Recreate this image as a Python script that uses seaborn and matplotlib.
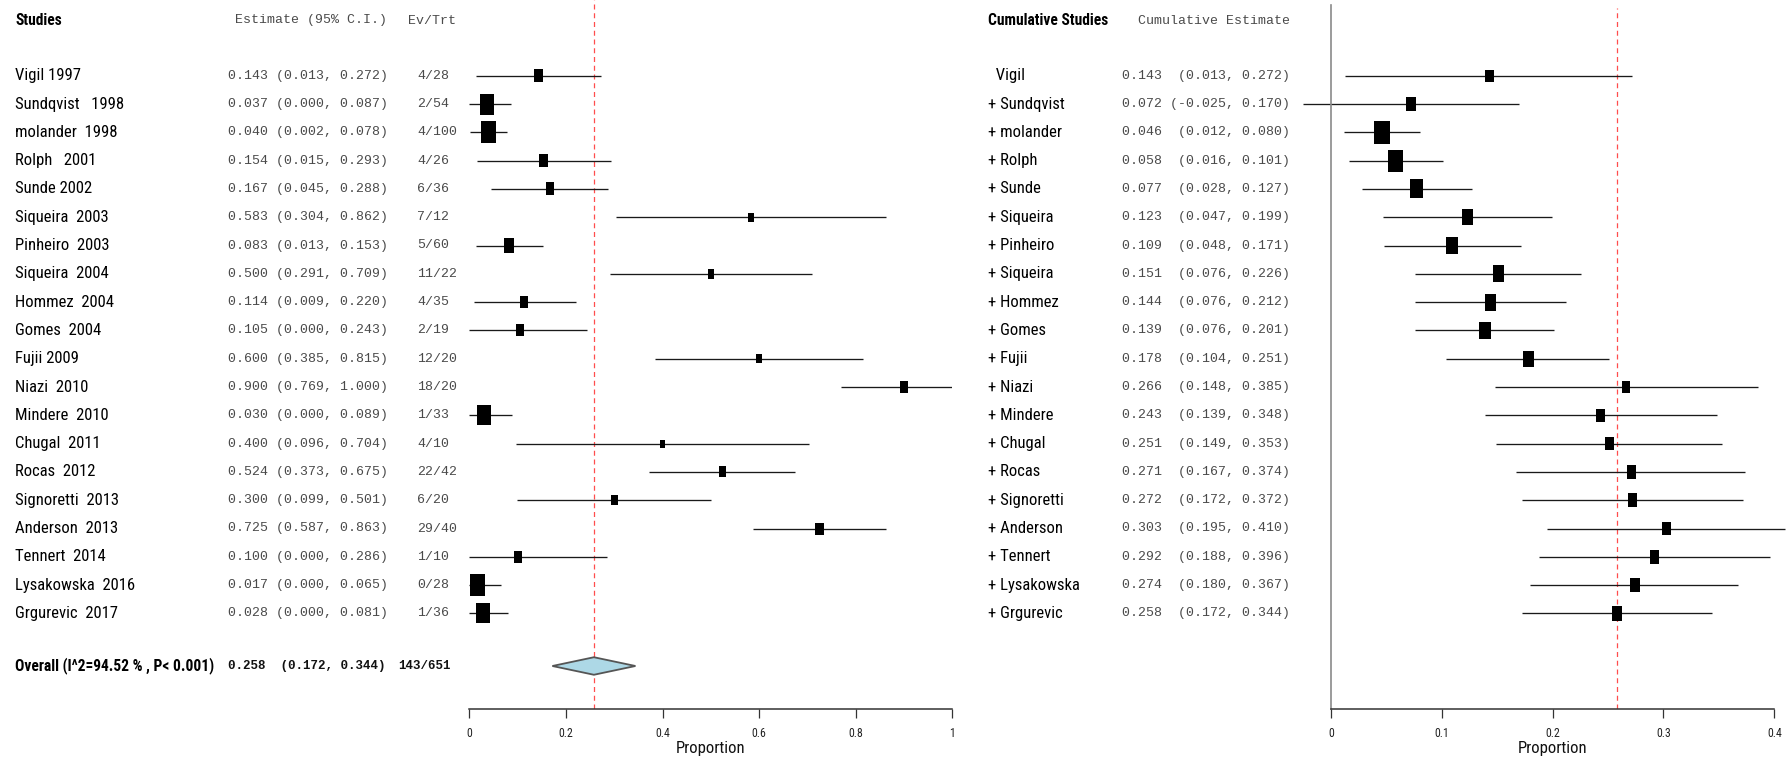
import numpy as np
import pandas as pd
import matplotlib
matplotlib.use("Agg")
import matplotlib.pyplot as plt
import matplotlib.transforms as mtransforms
from matplotlib import font_manager as fm
import seaborn as sns

# ---------------- data ----------------
studies = ["Vigil 1997", "Sundqvist   1998", "molander  1998", "Rolph   2001", "Sunde 2002",
           "Siqueira  2003", "Pinheiro  2003", "Siqueira  2004", "Hommez  2004", "Gomes  2004",
           "Fujii 2009", "Niazi  2010", "Mindere  2010", "Chugal  2011", "Rocas  2012",
           "Signoretti  2013", "Anderson  2013", "Tennert  2014", "Lysakowska  2016", "Grgurevic  2017"]
estimate = [0.143, 0.037, 0.040, 0.154, 0.167, 0.583, 0.083, 0.500, 0.114, 0.105,
            0.600, 0.900, 0.030, 0.400, 0.524, 0.300, 0.725, 0.100, 0.017, 0.028]
ci_low = [0.013, 0.000, 0.002, 0.015, 0.045, 0.304, 0.013, 0.291, 0.009, 0.000,
          0.385, 0.769, 0.000, 0.096, 0.373, 0.099, 0.587, 0.000, 0.000, 0.000]
ci_high = [0.272, 0.087, 0.078, 0.293, 0.288, 0.862, 0.153, 0.709, 0.220, 0.243,
           0.815, 1.000, 0.089, 0.704, 0.675, 0.501, 0.863, 0.286, 0.065, 0.081]
ev_trt = ["4/28", "2/54", "4/100", "4/26", "6/36", "7/12", "5/60", "11/22", "4/35", "2/19",
          "12/20", "18/20", "1/33", "4/10", "22/42", "6/20", "29/40", "1/10", "0/28", "1/36"]
box_size = [13, 21, 22, 12.5, 13, 9, 15, 9.5, 12, 12,
            9, 12, 20, 8, 11, 10, 12, 12, 22, 20]

cum_studies = ["  Vigil", "+ Sundqvist", "+ molander", "+ Rolph", "+ Sunde", "+ Siqueira",
               "+ Pinheiro", "+ Siqueira", "+ Hommez", "+ Gomes", "+ Fujii", "+ Niazi",
               "+ Mindere", "+ Chugal", "+ Rocas", "+ Signoretti", "+ Anderson", "+ Tennert",
               "+ Lysakowska", "+ Grgurevic"]
cum_estimate = [0.143, 0.072, 0.046, 0.058, 0.077, 0.123, 0.109, 0.151, 0.144, 0.139,
                0.178, 0.266, 0.243, 0.251, 0.271, 0.272, 0.303, 0.292, 0.274, 0.258]
cum_low = [0.013, -0.025, 0.012, 0.016, 0.028, 0.047, 0.048, 0.076, 0.076, 0.076,
           0.104, 0.148, 0.139, 0.149, 0.167, 0.172, 0.195, 0.188, 0.180, 0.172]
cum_high = [0.272, 0.170, 0.080, 0.101, 0.127, 0.199, 0.171, 0.226, 0.212, 0.201,
            0.251, 0.385, 0.348, 0.353, 0.374, 0.372, 0.410, 0.396, 0.367, 0.344]
cum_box_size = [12.3, 14.3, 23, 22, 19, 16, 17, 17, 17, 17.3,
                16.3, 12.3, 13.3, 13.7, 13.7, 14, 13.7, 14, 14.7, 15]

overall_label = "Overall (I^2=94.52 % , P< 0.001)"
overall_est, overall_low, overall_high = 0.258, 0.172, 0.344
overall_evtrt = "143/651"

left_ticks = [0, 0.2, 0.4, 0.6, 0.8, 1]
left_ticklabels = ["0", "0.2", "0.4", "0.6", "0.8", "1"]
right_ticks = [0, 0.1, 0.2, 0.3, 0.4]
right_ticklabels = ["0", "0.1", "0.2", "0.3", "0.4"]

# ---------------- fonts ----------------
sns.set_style("white")
MONO = ["Liberation Mono", "DejaVu Sans Mono"]


def pick_narrow():
    for fam in ["Liberation Sans Narrow", "Arial Narrow", "Roboto Condensed",
                "Noto Sans Condensed", "Open Sans Condensed", "Arimo Narrow"]:
        try:
            fm.findfont(fm.FontProperties(family=fam), fallback_to_default=False)
            return fam, "normal"
        except Exception:
            pass
    for fam in ["Noto Sans", "Roboto", "Open Sans"]:
        try:
            f = fm.findfont(fm.FontProperties(family=fam, stretch="condensed"),
                            fallback_to_default=False)
            if "ondensed" in f or "arrow" in f:
                return fam, "condensed"
        except Exception:
            pass
    return None


narrow = pick_narrow()
if narrow:
    SANS = [narrow[0], "Liberation Sans", "DejaVu Sans"]
    STRETCH = narrow[1]
    SZ_NAME, SZ_BOLD, SZ_TICK, SZ_LAB = 12, 11.2, 8.5, 12
else:
    SANS = ["Liberation Sans", "DejaVu Sans"]
    STRETCH = "normal"
    SZ_NAME, SZ_BOLD, SZ_TICK, SZ_LAB = 10.3, 10, 7.5, 10.5
plt.rcParams["font.family"] = SANS

W, H = 1786, 769
fig = plt.figure(figsize=(W / 100, H / 100), dpi=100)
fig.patch.set_facecolor("white")

ROW0, ROWH, AXY = 75.7, 28.3, 709.3


def row_of(px):
    return (px - ROW0) / ROWH


ytop, ybot = row_of(0), row_of(AXY)
overall_row = row_of(666)
header_row = row_of(20.5)


def make_ax(x0, x1):
    ax = fig.add_axes([x0 / W, (H - AXY) / H, (x1 - x0) / W, AXY / H])
    ax.patch.set_alpha(0)
    return ax


axL = make_ax(469.3, 952.3)
axR = make_ax(1331, 1774.3)

BOX = [(-0.34, -0.5), (0.34, -0.5), (0.34, 0.5), (-0.34, 0.5), (-0.34, -0.5)]
PX2PT = 72 / 100
rows = np.arange(len(studies))

dfL = pd.DataFrame({"est": estimate, "row": rows, "lo": ci_low, "hi": ci_high, "w": box_size})
dfR = pd.DataFrame({"est": cum_estimate, "row": rows, "lo": cum_low, "hi": cum_high, "w": cum_box_size})

for ax, df, clip in [(axL, dfL, True), (axR, dfR, False)]:
    ax.hlines(df["row"], df["lo"], df["hi"], colors="#1a1a1a", lw=0.95, zorder=2, clip_on=clip)
    sns.scatterplot(data=df, x="est", y="row", marker=BOX, s=(df["w"] * PX2PT) ** 2,
                    color="black", linewidth=0, ax=ax, legend=False, zorder=3, clip_on=False)

# overall diamond
d = 0.31
axL.fill([overall_low, overall_est, overall_high, overall_est],
         [overall_row, overall_row - d, overall_row, overall_row + d],
         facecolor="#add8e6", edgecolor="#555555", lw=1.3, zorder=3)

# reference lines
axL.vlines(overall_est, ybot, ytop, colors="#ff4d4d", linestyles=(0, (4, 3)), lw=0.9, zorder=1)
axR.vlines(overall_est, ybot, row_of(8), colors="#ff4d4d", linestyles=(0, (4, 3)), lw=0.9, zorder=1)

for ax, ticks, labels in [(axL, left_ticks, left_ticklabels), (axR, right_ticks, right_ticklabels)]:
    ax.set_xlim(ticks[0], ticks[-1])
    ax.set_ylim(ybot, ytop)
    for s in ["top", "right", "left"]:
        ax.spines[s].set_visible(False)
    ax.spines["bottom"].set_bounds(ticks[0], ticks[-1])
    ax.spines["bottom"].set_color("#333333")
    ax.spines["bottom"].set_linewidth(1.1)
    ax.set_xticks(ticks)
    ax.set_xticklabels(labels, fontstretch=STRETCH)
    ax.set_yticks([])
    ax.tick_params(axis="x", bottom=True, direction="out", length=6.5, width=0.9,
                   color="#333333", pad=6, labelsize=SZ_TICK, labelcolor="#222222")
    ax.set_xlabel("Proportion", fontsize=SZ_LAB, labelpad=1, color="#111111", fontstretch=STRETCH)
    ax.set_ylabel("")

axR.spines["left"].set_visible(True)
axR.spines["left"].set_color("#8a8a8a")
axR.spines["left"].set_linewidth(1.2)
axR.spines["left"].set_bounds(ybot, row_of(5))

# ---------------- text ----------------
transL = mtransforms.blended_transform_factory(fig.transFigure, axL.transData)


def tx(px, row, s, mono=False, bold=False, color="black", size=None):
    kw = dict(transform=transL, ha="left", va="center",
              fontweight="bold" if bold else "normal", color=color)
    if mono:
        axL.text(px / W, row, s, family=MONO, fontsize=size if size else 9.5, **kw)
    else:
        axL.text(px / W, row, s, family=SANS, fontstretch=STRETCH,
                 fontsize=size if size else (SZ_BOLD if bold else SZ_NAME), **kw)


GRAY = "#4a4a4a"
tx(15, header_row, "Studies", bold=True)
tx(235, header_row, "Estimate (95% C.I.)", mono=True, color=GRAY)
tx(408, header_row, "Ev/Trt", mono=True, color=GRAY)
tx(988, header_row, "Cumulative Studies", bold=True)
tx(1138, header_row, "Cumulative Estimate", mono=True, color=GRAY)

for i in rows:
    tx(15, i, studies[i])
    tx(228, i, f"{estimate[i]:.3f} ({ci_low[i]:.3f}, {ci_high[i]:.3f})", mono=True, color=GRAY)
    tx(417, i, ev_trt[i], mono=True, color=GRAY)
    tx(988, i, cum_studies[i])
    ci = f"({cum_low[i]:.3f}, {cum_high[i]:.3f})"
    tx(1122, i, f"{cum_estimate[i]:.3f} {ci:>15}", mono=True, color=GRAY)

tx(15, overall_row, overall_label, bold=True)
tx(228, overall_row, f"{overall_est:.3f}  ({overall_low:.3f}, {overall_high:.3f})", mono=True, bold=True,
   color="#111111", size=9)
tx(398, overall_row, overall_evtrt, mono=True, bold=True, color="#111111", size=9)

fig.savefig("out.png", dpi=100, facecolor="white")
